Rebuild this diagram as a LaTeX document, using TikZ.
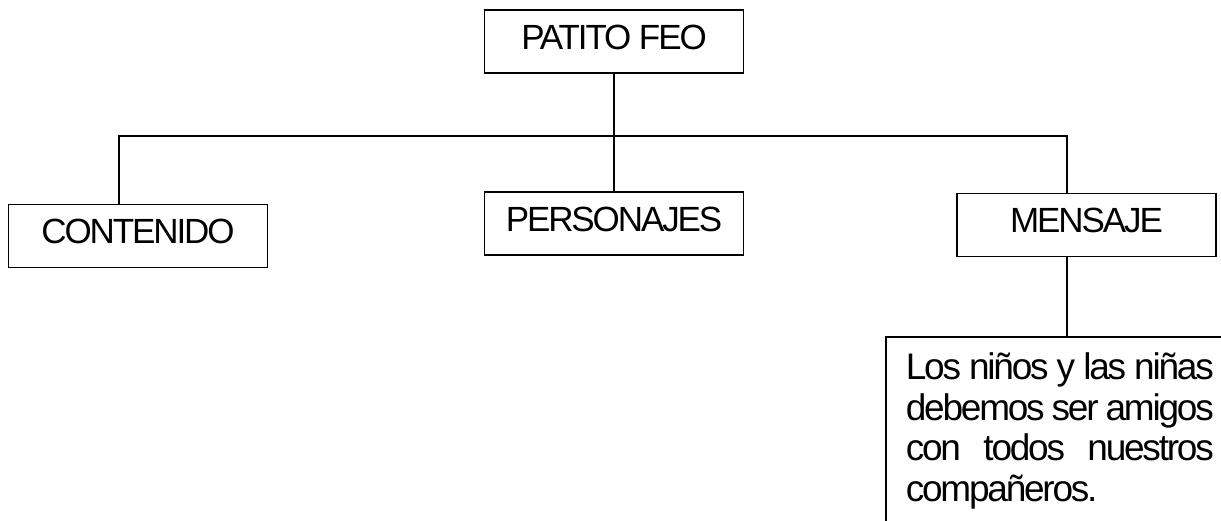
\documentclass[tikz,border=0pt]{standalone}
\usepackage{fontspec}
\usepackage{tikz}
\usetikzlibrary{positioning}
\newfontfamily\headfont[LetterSpace=-6]{Liberation Sans}
\newfontfamily\bodyfont[LetterSpace=-6]{Liberation Sans}
\newcommand\msgline[1]{\hbox to 308pt{#1}}
\begin{document}
\begin{tikzpicture}[x = 1pt, y = -1pt, node distance = 182pt]

  \tikzstyle{box} = [draw, line width = 1.6pt, minimum width = 259pt, minimum height = 63pt,
                     font = \headfont\fontsize{35}{40}\selectfont, text height = 25pt, text depth = 9pt]
    \tikzstyle{wire} = [line width = 1.6pt]

    \useasboundingbox (0,0) rectangle (1221,521);
    \clip (0,0) rectangle (1221,521);

    \node[box] (feo) at (614,41.5) {PATITO FEO};
    \node[box, below of = feo] (personajes) {PERSONAJES};
    \node[box] (contenido) at (138,236) {CONTENIDO};
    \node[box] (mensaje) at (1086.5,225) {MENSAJE};

    \coordinate (hl) at (119,136);
    \coordinate (hr) at (1067,136);
    \draw[wire] (feo) -- (personajes);
    \draw[wire] (hl |- contenido.north) -- (hl) -- (hr) -- (hr |- mensaje.north);

    \node[draw, line width = 1.6pt, anchor = north west, text width = 308pt,
          inner xsep = 20pt, inner ysep = 16pt,
          font = \bodyfont\fontsize{37}{40.5}\selectfont] (leccion) at (885,336)
          {\msgline{Los\hfill niños\hfill y\hfill las\hfill niñas}\par
           \msgline{debemos\hfill ser\hfill amigos}\par
           \msgline{con\hfill todos\hfill nuestros}\par
           compañeros.\par\vspace*{30pt}};
    \draw[wire] (hr |- mensaje.south) -- (hr |- leccion.north);
\end{tikzpicture}
\end{document}
